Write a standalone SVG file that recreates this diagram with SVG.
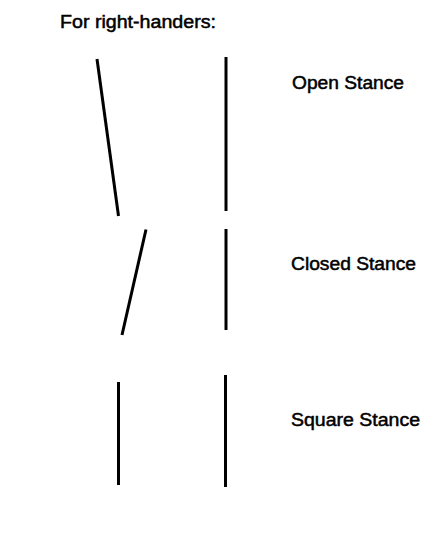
<svg xmlns="http://www.w3.org/2000/svg" width="440" height="556" viewBox="0 0 440 556">
<style>
.t{font-family:"Liberation Sans",Arial,sans-serif;font-size:18px;fill:#000;stroke:#000;stroke-width:0.5}
.f{stroke:#000;stroke-width:3;fill:none}
</style>
<rect width="440" height="556" fill="#fff"/>
<text class="t" x="60" y="28" textLength="156" lengthAdjust="spacingAndGlyphs">For right-handers:</text>
<g id="open">
<line class="f" x1="97" y1="59" x2="118.5" y2="216"/>
<line class="f" x1="226" y1="57" x2="226" y2="211"/>
<text class="t" x="292" y="89" textLength="112" lengthAdjust="spacingAndGlyphs">Open Stance</text>
</g>
<g id="closed">
<line class="f" x1="146" y1="229.5" x2="122" y2="335"/>
<line class="f" x1="226" y1="229" x2="226" y2="330"/>
<text class="t" x="291" y="270" textLength="125" lengthAdjust="spacingAndGlyphs">Closed Stance</text>
</g>
<g id="square">
<line class="f" x1="118.5" y1="382" x2="118.5" y2="485"/>
<line class="f" x1="225.5" y1="375" x2="225.5" y2="487"/>
<text class="t" x="291" y="426" textLength="129" lengthAdjust="spacingAndGlyphs">Square Stance</text>
</g>
</svg>
